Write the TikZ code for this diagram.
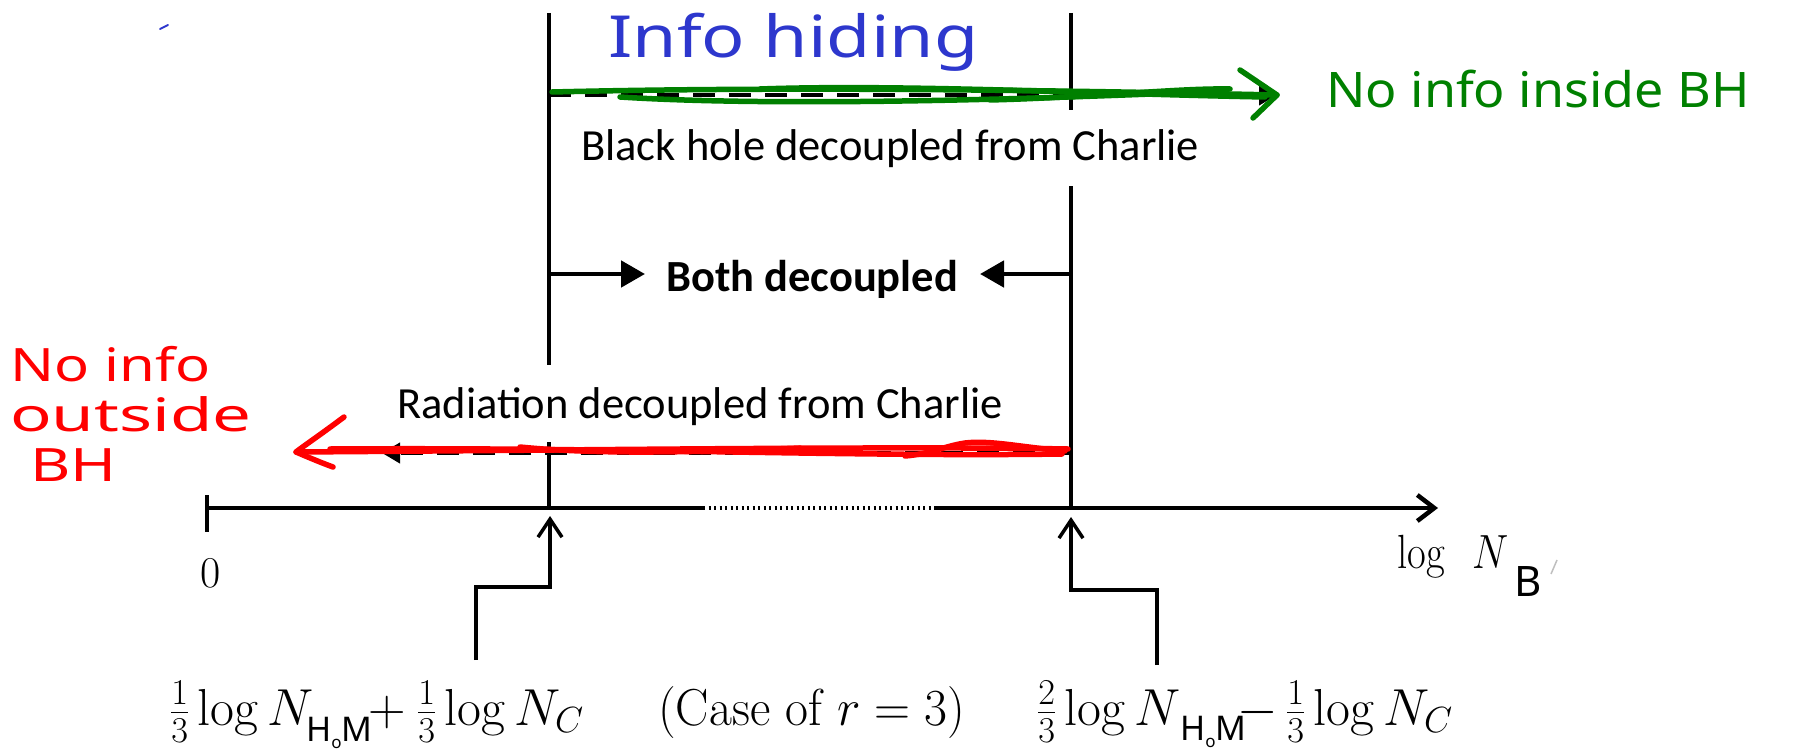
\RequirePackage{fix-cm}
\documentclass[tikz,border=0pt]{standalone}
\usepackage{fontspec}
\usetikzlibrary{arrows.meta}
\newfontfamily\calib{Carlito}
\newfontfamily\hand{Noto Sans}
\definecolor{pengreen}{RGB}{0,128,0}
\definecolor{penblue}{RGB}{45,55,205}
\definecolor{penred}{RGB}{255,0,0}
\tikzset{
  vline/.style={line width=3.8pt},
  axisline/.style={line width=4.5pt},
  dasharrow/.style={line width=4pt, dash pattern=on 22pt off 14pt, -{Triangle[length=18pt,width=20pt]}},
  botharrow/.style={line width=4.8pt, -{Triangle[length=24pt,width=26pt]}},
  steparrow/.style={line width=3.5pt, -{Straight Barb[length=18pt,width=24pt]}},
  lbl/.style={inner sep=0pt, anchor=base west},
  calibtext/.style={lbl, font=\calib\fontsize{44.5}{50}\selectfont},
  mathlbl/.style={lbl, font=\fontsize{52}{58}\selectfont},
  handsub/.style={lbl, font=\hand\fontsize{34}{34}\selectfont},
  greenpen/.style={pengreen, line width=5.5pt, line cap=round, line join=round},
  redpen/.style={penred, line width=5.5pt, line cap=round, line join=round},
}
\newcommand{\hoM}{H\raisebox{-7pt}{\fontsize{17}{17}\selectfont o}M}
\begin{document}
\begin{tikzpicture}[x=1pt,y=-1pt]
\useasboundingbox (0,0) rectangle (1819,752);
% coordinates
\coordinate (O) at (207,508);
\coordinate (D1) at (703,508);
\coordinate (D2) at (936,508);
\coordinate (E) at (1438,508);
\coordinate (T1) at (207,495);
\coordinate (T2) at (207,532);
\coordinate (L1) at (549,13);
\coordinate (L2) at (549,365);
\coordinate (L3) at (549,442);
\coordinate (L4) at (549,508);
\coordinate (R1) at (1071,13);
\coordinate (R2) at (1071,110);
\coordinate (R3) at (1071,186);
\coordinate (R4) at (1071,508);
% axis
\draw[axisline] (O) -- (D1);
\draw[line width=4pt, dash pattern=on 2pt off 3.5pt] (D1) -- (D2);
\draw[axisline, -{Straight Barb[length=17pt,width=26pt]}] (D2) -- (E);
\draw[line width=4pt] (T1) -- (T2);
% vertical lines
\draw[vline] (L1) -- (L2);
\draw[vline] (L3) -- (L4);
\draw[vline] (R1) -- (R2);
\draw[vline] (R3) -- (R4);
% both decoupled
\coordinate (BL0) at (549,274);
\coordinate (BL1) at (645,274);
\coordinate (BR0) at (1071,274);
\coordinate (BR1) at (980,274);
\draw[botharrow] (BL0) -- (BL1);
\draw[botharrow] (BR0) -- (BR1);
\node[inner sep=0pt, anchor=base, font=\calib\bfseries\fontsize{44.5}{50}\selectfont] (both) at (812,291) {Both decoupled};
% dashed arrows
\coordinate (TD0) at (549,95);
\coordinate (TD1) at (1277,95);
\coordinate (BD0) at (1071,453);
\coordinate (BD1) at (382,453);
\draw[dasharrow] (TD0) -- (TD1);
\draw[dasharrow] (BD0) -- (BD1);
% text labels
\node[calibtext] (bh) at (581,160) {Black hole decoupled from Charlie};
\node[calibtext] (rad) at (397,418) {Radiation decoupled from Charlie};
% step arrows from below
\coordinate (SL0) at (476,660);
\coordinate (SL1) at (476,587);
\coordinate (SL2) at (550,587);
\coordinate (SL3) at (550,516);
\coordinate (SR0) at (1157,665);
\coordinate (SR1) at (1157,590);
\coordinate (SR2) at (1071,590);
\coordinate (SR3) at (1071,517);
\draw[steparrow] (SL0) -- (SL1) -- (SL2) -- (SL3);
\draw[steparrow] (SR0) -- (SR1) -- (SR2) -- (SR3);
% axis labels
\node[inner sep=0pt, anchor=base, font=\fontsize{44}{50}\selectfont] (zero) at (211,587) {0};
\node[lbl, font=\fontsize{48}{54}\selectfont] (logB) at (1397,568) {\scalebox{0.85}[1]{$\log$}};
\node[lbl, font=\fontsize{48}{54}\selectfont] (NB) at (1472,568) {\scalebox{0.85}[1]{$N$}};
\node[lbl, font=\hand\fontsize{42}{44}\selectfont] (Bhand) at (1514,596) {B};
\draw[black!25, line width=1.5pt] (1551,574) -- (1557,560);
% bottom left label
\node[mathlbl] (la1) at (170,725) {$\frac13\log N$};
\node[mathlbl] (la2) at (368,725) {$+$};
\node[mathlbl] (la3) at (417,725) {$\frac13\log N_C$};
\node[handsub] (lah) at (306,741) {\hoM};
% middle label
\node[mathlbl] (labC) at (658,725) {\scalebox{0.96}[1]{(Case of $r=3$)}};
% bottom right label
\node[mathlbl] (ra1) at (1037,725) {$\frac23\log N$};
\node[mathlbl] (ra2) at (1237,725) {$-$};
\node[mathlbl] (ra3) at (1286,725) {$\frac13\log N_C$};
\node[handsub] (rah) at (1180,740) {\hoM};
% handwriting
\node[lbl, penblue, font=\hand\fontsize{58}{60}\selectfont] (info) at (608,58) {\scalebox{1.24}[1]{Info hiding}};
\node[lbl, pengreen, font=\hand\fontsize{49}{50}\selectfont] (noin) at (1326,107) {\scalebox{1.06}[1]{No info inside BH}};
\node[anchor=north west, inner sep=0pt, penred, align=left, font=\hand\fontsize{46}{50}\selectfont] (noout) at (10,346)
  {\scalebox{1.26}[1]{No info}\\\scalebox{1.5}[1]{outside}\\\hspace*{20pt}\scalebox{1.35}[1]{BH}};
\draw[penblue, line width=2pt, line cap=round] (160,29) -- (168,25);
% green scribble
\draw[greenpen] (552,92) .. controls (760,87) and (1000,89) .. (1277,95);
\draw[greenpen] (620,97) .. controls (760,106) and (990,101) .. (1200,92);
\draw[greenpen] (760,89) .. controls (900,84) and (1100,94) .. (1265,97);
\draw[greenpen] (990,100) .. controls (1100,97) and (1180,88) .. (1230,89);
\draw[greenpen] (1240,70) -- (1277,95) -- (1253,118);
% red scribble
\draw[redpen] (1068,449) .. controls (900,446) and (600,450) .. (296,452);
\draw[redpen] (1062,454) .. controls (850,457) and (620,447) .. (330,449);
\draw[redpen] (1065,451) .. controls (1020,447) and (990,440) .. (965,443) .. controls (945,446) and (930,454) .. (905,456);
\draw[redpen] (520,447) .. controls (600,455) and (700,452) .. (800,448);
\draw[redpen] (344,417) .. controls (320,435) and (305,445) .. (296,452) .. controls (310,458) and (322,463) .. (333,467);
\end{tikzpicture}
\end{document}
